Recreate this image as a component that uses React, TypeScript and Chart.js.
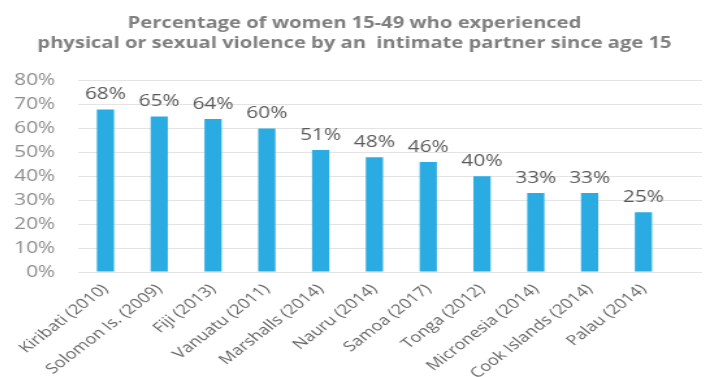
import React, { useEffect, useRef } from "react";
import { Chart, registerables } from "chart.js";

Chart.register(...registerables);

// ---- data ----
const TITLE_LINES = [
  "Percentage of women 15-49 who experienced",
  "physical or sexual violence by an  intimate partner since age 15",
];
// the original plot area keeps one empty slot on the right
const CATEGORIES = [
  "Kiribati (2010)",
  "Solomon Is. (2009)",
  "Fiji (2013)",
  "Vanuatu (2011)",
  "Marshalls (2014)",
  "Nauru (2014)",
  "Samoa (2017)",
  "Tonga (2012)",
  "Micronesia (2014)",
  "Cook Islands (2014)",
  "Palau (2014)",
  "",
];
const VALUES = [68, 65, 64, 60, 51, 48, 46, 40, 33, 33, 25];
const Y_MIN = 0;
const Y_MAX = 80;
const Y_STEP = 10;

// ---- layout / style ----
const STRETCH = 1.3; // reference image is horizontally stretched
const W = 551;
const H = 369;
const PLOT_TOP = 72.7;
const PLOT_BOTTOM = 264;
const Y_AXIS_W = 53.3;
const TITLE_X = 266.5;
const FONT = '"Open Sans", "DejaVu Sans", sans-serif';

const titlePlugin = {
  id: "stretchedTitle",
  afterDraw(chart: any) {
    const ctx = chart.ctx;
    ctx.save();
    ctx.font = `bold 15.5px ${FONT}`;
    ctx.fillStyle = "#7f7f7f";
    ctx.textAlign = "center";
    ctx.textBaseline = "alphabetic";
    ctx.fillText(TITLE_LINES[0], TITLE_X, 19.7);
    ctx.fillText(TITLE_LINES[1], TITLE_X, 39.7);
    ctx.restore();
  },
};

const valueLabelPlugin = {
  id: "valueLabels",
  afterDatasetsDraw(chart: any) {
    const ctx = chart.ctx;
    const meta = chart.getDatasetMeta(0);
    ctx.save();
    ctx.font = `16px ${FONT}`;
    ctx.fillStyle = "#595959";
    ctx.textAlign = "center";
    ctx.textBaseline = "middle";
    meta.data.forEach((bar: any, i: number) => {
      ctx.fillText(`${VALUES[i]}%`, bar.x, bar.y - 15);
    });
    ctx.restore();
  },
};

export default function App() {
  const ref = useRef<HTMLCanvasElement | null>(null);

  useEffect(() => {
    document.documentElement.style.overflow = "hidden";
    const canvas = ref.current;
    if (!canvas) return;
    const chart = new Chart(canvas, {
      type: "bar",
      data: {
        labels: CATEGORIES,
        datasets: [
          {
            data: VALUES,
            backgroundColor: "#2AACE2",
            borderWidth: 0,
            categoryPercentage: 1,
            barPercentage: 0.32,
          },
        ],
      },
      options: {
        responsive: false,
        animation: false,
        devicePixelRatio: 1,
        layout: { padding: { top: PLOT_TOP, left: 0, right: 0, bottom: 0 } },
        plugins: {
          legend: { display: false },
          tooltip: { enabled: false },
          title: { display: false },
        },
        scales: {
          x: {
            grid: { display: false, drawTicks: false },
            border: { display: false },
            ticks: {
              autoSkip: false,
              minRotation: 45,
              maxRotation: 45,
              padding: 9,
              color: "#666666",
              font: { family: FONT, size: 14 },
            },
            afterFit(scale: any) {
              scale.height = H - PLOT_BOTTOM;
            },
          },
          y: {
            min: Y_MIN,
            max: Y_MAX,
            ticks: {
              stepSize: Y_STEP,
              padding: 18,
              color: "#8c8c8c",
              font: { family: FONT, size: 16 },
              callback: (v: any) => `${v}%`,
            },
            grid: { color: "#e4e4e4", lineWidth: 1, drawTicks: false },
            border: { display: false },
            afterFit(scale: any) {
              scale.width = Y_AXIS_W;
            },
          },
        },
      },
      plugins: [titlePlugin, valueLabelPlugin],
    });
    return () => chart.destroy();
  }, []);

  return (
    <div style={{ width: 702, height: H, overflow: "hidden" }}>
      <canvas
        ref={ref}
        width={W}
        height={H}
        style={{
          display: "block",
          width: W,
          height: H,
          transform: `scaleX(${STRETCH})`,
          transformOrigin: "0 0",
        }}
      />
    </div>
  );
}
